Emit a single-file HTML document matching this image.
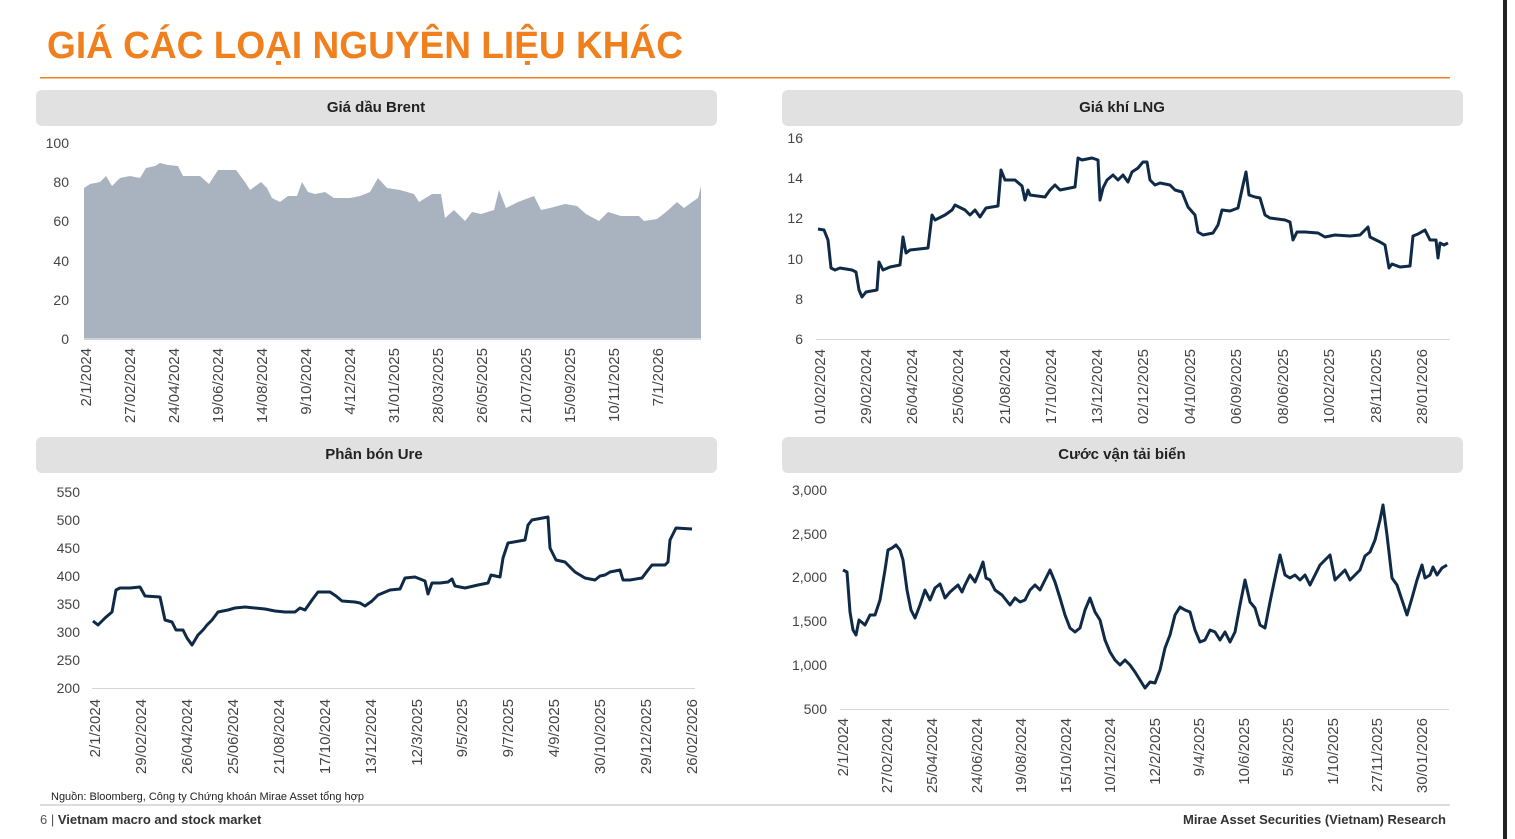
<!DOCTYPE html>
<html><head><meta charset="utf-8"><style>
body{margin:0;width:1515px;height:839px;background:#fff;overflow:hidden;font-family:"Liberation Sans",sans-serif}
svg{position:absolute;left:0;top:0}
</style></head><body>
<svg width="1515" height="839" viewBox="0 0 1515 839" font-family="Liberation Sans, sans-serif">
<rect x="1503" y="0" width="4" height="839" fill="#222"/>
<text x="47" y="58" font-size="38" font-weight="bold" fill="#f07f1e" textLength="636" lengthAdjust="spacingAndGlyphs">GIÁ CÁC LOẠI NGUYÊN LIỆU KHÁC</text>
<rect x="40" y="77" width="1410" height="1.5" fill="#f07f1e"/>
<rect x="36" y="90" width="681" height="36" rx="6" fill="#e1e1e1"/>
<rect x="782" y="90" width="681" height="36" rx="6" fill="#e1e1e1"/>
<rect x="36" y="437" width="681" height="36" rx="6" fill="#e1e1e1"/>
<rect x="782" y="437" width="681" height="36" rx="6" fill="#e1e1e1"/>
<g font-size="15" font-weight="bold" fill="#222" text-anchor="middle">
<text x="376" y="112">Giá dầu Brent</text>
<text x="1122" y="112">Giá khí LNG</text>
<text x="374" y="459">Phân bón Ure</text>
<text x="1122" y="459">Cước vận tải biển</text>
</g>
<!-- Brent -->
<polygon fill="#a9b3bf" points="84,339 84,188 90,184 100,182 106,176 112,186 120,178 130,176 140,178 146,168 155,166 160,163 168,165 178,166 183,176 195,176 200,176 209,184 218,170 228,170 236,170 245,182 250,190 261,182 267,188 272,198 280,202 288,196 297,196 302,182 308,192 315,194 325,192 334,198 350,198 360,196 370,192 378,178 387,188 400,190 414,194 419,202 432,194 441,194 445,218 454,210 465,221 472,212 481,214 494,210 499,190 506,208 518,202 534,196 541,210 550,208 565,204 577,206 586,214 599,221 608,212 621,216 639,216 644,221 657,219 666,212 677,202 684,208 692,202 698,198 701,186 701,339"/>
<rect x="84" y="338" width="617" height="2" fill="#d0d4d9"/>
<g font-size="14" fill="#444" text-anchor="end">
<text x="69" y="148">100</text><text x="69" y="187">80</text><text x="69" y="226">60</text><text x="69" y="266">40</text><text x="69" y="305">20</text><text x="69" y="344">0</text>
<text x="803" y="143">16</text><text x="803" y="183">14</text><text x="803" y="223">12</text><text x="803" y="264">10</text><text x="803" y="304">8</text><text x="803" y="344">6</text>
<text x="80" y="497">550</text><text x="80" y="525">500</text><text x="80" y="553">450</text><text x="80" y="581">400</text><text x="80" y="609">350</text><text x="80" y="637">300</text><text x="80" y="665">250</text><text x="80" y="693">200</text>
<text x="827" y="495">3,000</text><text x="827" y="539">2,500</text><text x="827" y="582">2,000</text><text x="827" y="626">1,500</text><text x="827" y="670">1,000</text><text x="827" y="714">500</text>
</g>
<g font-size="15" fill="#444" text-anchor="end">
<g transform="translate(0,348)">
<text transform="translate(91,0) rotate(-90)">2/1/2024</text><text transform="translate(135,0) rotate(-90)">27/02/2024</text><text transform="translate(179,0) rotate(-90)">24/04/2024</text><text transform="translate(223,0) rotate(-90)">19/06/2024</text><text transform="translate(267,0) rotate(-90)">14/08/2024</text><text transform="translate(311,0) rotate(-90)">9/10/2024</text><text transform="translate(355,0) rotate(-90)">4/12/2024</text><text transform="translate(399,0) rotate(-90)">31/01/2025</text><text transform="translate(443,0) rotate(-90)">28/03/2025</text><text transform="translate(487,0) rotate(-90)">26/05/2025</text><text transform="translate(531,0) rotate(-90)">21/07/2025</text><text transform="translate(575,0) rotate(-90)">15/09/2025</text><text transform="translate(619,0) rotate(-90)">10/11/2025</text><text transform="translate(663,0) rotate(-90)">7/1/2026</text>
</g>
<g transform="translate(0,349)">
<text transform="translate(825,0) rotate(-90)">01/02/2024</text><text transform="translate(871,0) rotate(-90)">29/02/2024</text><text transform="translate(917,0) rotate(-90)">26/04/2024</text><text transform="translate(963,0) rotate(-90)">25/06/2024</text><text transform="translate(1010,0) rotate(-90)">21/08/2024</text><text transform="translate(1056,0) rotate(-90)">17/10/2024</text><text transform="translate(1102,0) rotate(-90)">13/12/2024</text><text transform="translate(1148,0) rotate(-90)">02/12/2025</text><text transform="translate(1195,0) rotate(-90)">04/10/2025</text><text transform="translate(1241,0) rotate(-90)">06/09/2025</text><text transform="translate(1288,0) rotate(-90)">08/06/2025</text><text transform="translate(1334,0) rotate(-90)">10/02/2025</text><text transform="translate(1381,0) rotate(-90)">28/11/2025</text><text transform="translate(1427,0) rotate(-90)">28/01/2026</text>
</g>
<g transform="translate(0,699)">
<text transform="translate(100,0) rotate(-90)">2/1/2024</text><text transform="translate(146,0) rotate(-90)">29/02/2024</text><text transform="translate(192,0) rotate(-90)">26/04/2024</text><text transform="translate(238,0) rotate(-90)">25/06/2024</text><text transform="translate(284,0) rotate(-90)">21/08/2024</text><text transform="translate(330,0) rotate(-90)">17/10/2024</text><text transform="translate(376,0) rotate(-90)">13/12/2024</text><text transform="translate(422,0) rotate(-90)">12/3/2025</text><text transform="translate(467,0) rotate(-90)">9/5/2025</text><text transform="translate(513,0) rotate(-90)">9/7/2025</text><text transform="translate(559,0) rotate(-90)">4/9/2025</text><text transform="translate(605,0) rotate(-90)">30/10/2025</text><text transform="translate(651,0) rotate(-90)">29/12/2025</text><text transform="translate(697,0) rotate(-90)">26/02/2026</text>
</g>
<g transform="translate(0,718)">
<text transform="translate(848,0) rotate(-90)">2/1/2024</text><text transform="translate(892,0) rotate(-90)">27/02/2024</text><text transform="translate(937,0) rotate(-90)">25/04/2024</text><text transform="translate(982,0) rotate(-90)">24/06/2024</text><text transform="translate(1026,0) rotate(-90)">19/08/2024</text><text transform="translate(1071,0) rotate(-90)">15/10/2024</text><text transform="translate(1115,0) rotate(-90)">10/12/2024</text><text transform="translate(1160,0) rotate(-90)">12/2/2025</text><text transform="translate(1204,0) rotate(-90)">9/4/2025</text><text transform="translate(1249,0) rotate(-90)">10/6/2025</text><text transform="translate(1293,0) rotate(-90)">5/8/2025</text><text transform="translate(1338,0) rotate(-90)">1/10/2025</text><text transform="translate(1382,0) rotate(-90)">27/11/2025</text><text transform="translate(1427,0) rotate(-90)">30/01/2026</text>
</g>
</g>
<g stroke="#d6d6d6" stroke-width="1"><line x1="816" y1="339.5" x2="1450" y2="339.5"/><line x1="92" y1="688.5" x2="695" y2="688.5"/><line x1="840" y1="709.5" x2="1449" y2="709.5"/></g>
<g fill="none" stroke="#0f2a47" stroke-width="3" stroke-linejoin="round">
<polyline points="818,229 824,230 828,240 831,268 835,270 840,268 852,270 856,272 859,290 862,297 866,292 877,290 879,262 883,270 890,267 900,265 903,237 906,253 910,250 928,248 932,215 935,220 945,215 952,210 955,205 965,210 970,215 975,210 980,217 986,208 998,206 1001,170 1005,180 1015,180 1022,186 1025,200 1028,190 1030,195 1045,197 1050,190 1055,185 1060,190 1070,188 1075,187 1078,158 1082,160 1092,158 1098,160 1100,200 1103,188 1107,180 1113,175 1118,180 1123,175 1128,182 1132,172 1138,168 1143,162 1147,162 1150,180 1155,185 1160,183 1170,185 1175,190 1182,192 1188,207 1195,215 1198,232 1203,235 1213,233 1218,225 1222,210 1230,211 1238,208 1243,185 1246,172 1249,195 1255,197 1260,198 1265,215 1270,218 1285,220 1290,222 1293,240 1297,232 1305,232 1318,233 1325,237 1335,235 1350,236 1360,235 1368,227 1370,237 1380,242 1385,245 1389,268 1392,264 1400,267 1410,266 1413,236 1418,234 1425,230 1430,240 1436,240 1438,258 1440,243 1444,245 1448,243"/>
<polyline points="93,621 98,625 105,618 112,612 116,590 120,588 130,588 140,587 145,596 160,597 165,620 172,622 176,630 183,630 187,638 192,645 195,640 198,635 203,630 207,625 212,620 218,612 228,610 235,608 245,607 255,608 265,609 275,611 285,612 295,612 300,608 305,610 312,600 318,592 330,592 336,596 342,601 355,602 360,603 365,606 372,601 378,595 390,590 400,589 405,578 415,577 425,581 428,594 432,583 440,583 448,582 452,579 455,586 465,588 478,585 488,583 491,575 500,577 503,558 508,543 525,540 528,525 532,520 548,517 550,548 556,560 565,562 575,572 585,578 595,580 600,576 605,575 610,572 620,570 623,580 630,580 642,578 648,570 652,565 665,565 668,562 670,540 676,528 692,529"/>
<polyline points="843,570 847,572 850,612 853,630 856,635 859,620 865,625 870,615 875,615 880,600 885,570 888,550 892,548 896,545 900,550 903,560 907,590 911,610 915,618 920,605 925,590 930,600 935,588 940,584 945,598 950,592 958,585 962,592 965,585 970,575 975,582 980,570 983,562 986,578 990,580 995,590 1002,595 1010,605 1015,598 1020,602 1025,600 1030,590 1035,585 1040,590 1045,580 1050,570 1055,582 1060,598 1065,615 1070,628 1075,632 1080,628 1085,610 1090,598 1095,612 1100,620 1105,640 1110,652 1115,660 1120,665 1125,660 1130,665 1135,672 1140,680 1145,688 1150,682 1155,683 1160,670 1165,648 1170,635 1175,615 1180,607 1185,610 1190,612 1195,630 1200,642 1205,640 1210,630 1215,632 1220,640 1225,632 1230,642 1235,632 1240,605 1245,580 1250,602 1255,608 1260,625 1265,628 1270,602 1275,578 1280,555 1285,575 1290,578 1295,575 1300,580 1305,575 1310,585 1315,575 1320,565 1325,560 1330,555 1335,580 1340,575 1345,570 1350,580 1355,575 1360,570 1365,556 1370,552 1375,540 1380,520 1383,505 1387,535 1392,578 1397,585 1402,600 1407,615 1412,598 1417,580 1422,565 1425,578 1430,575 1433,567 1437,575 1442,568 1447,565"/>
</g>
<text x="51" y="800" font-size="11" fill="#222">Nguồn: Bloomberg, Công ty Chứng khoán Mirae Asset tổng hợp</text>
<rect x="40" y="804" width="1410" height="2" fill="#dcdcdc"/>
<text x="40" y="824" font-size="13" fill="#555">6 | <tspan font-weight="bold" fill="#333">Vietnam macro and stock market</tspan></text>
<text x="1446" y="824" font-size="13" font-weight="bold" fill="#333" text-anchor="end">Mirae Asset Securities (Vietnam) Research</text>
</svg>
</body></html>
